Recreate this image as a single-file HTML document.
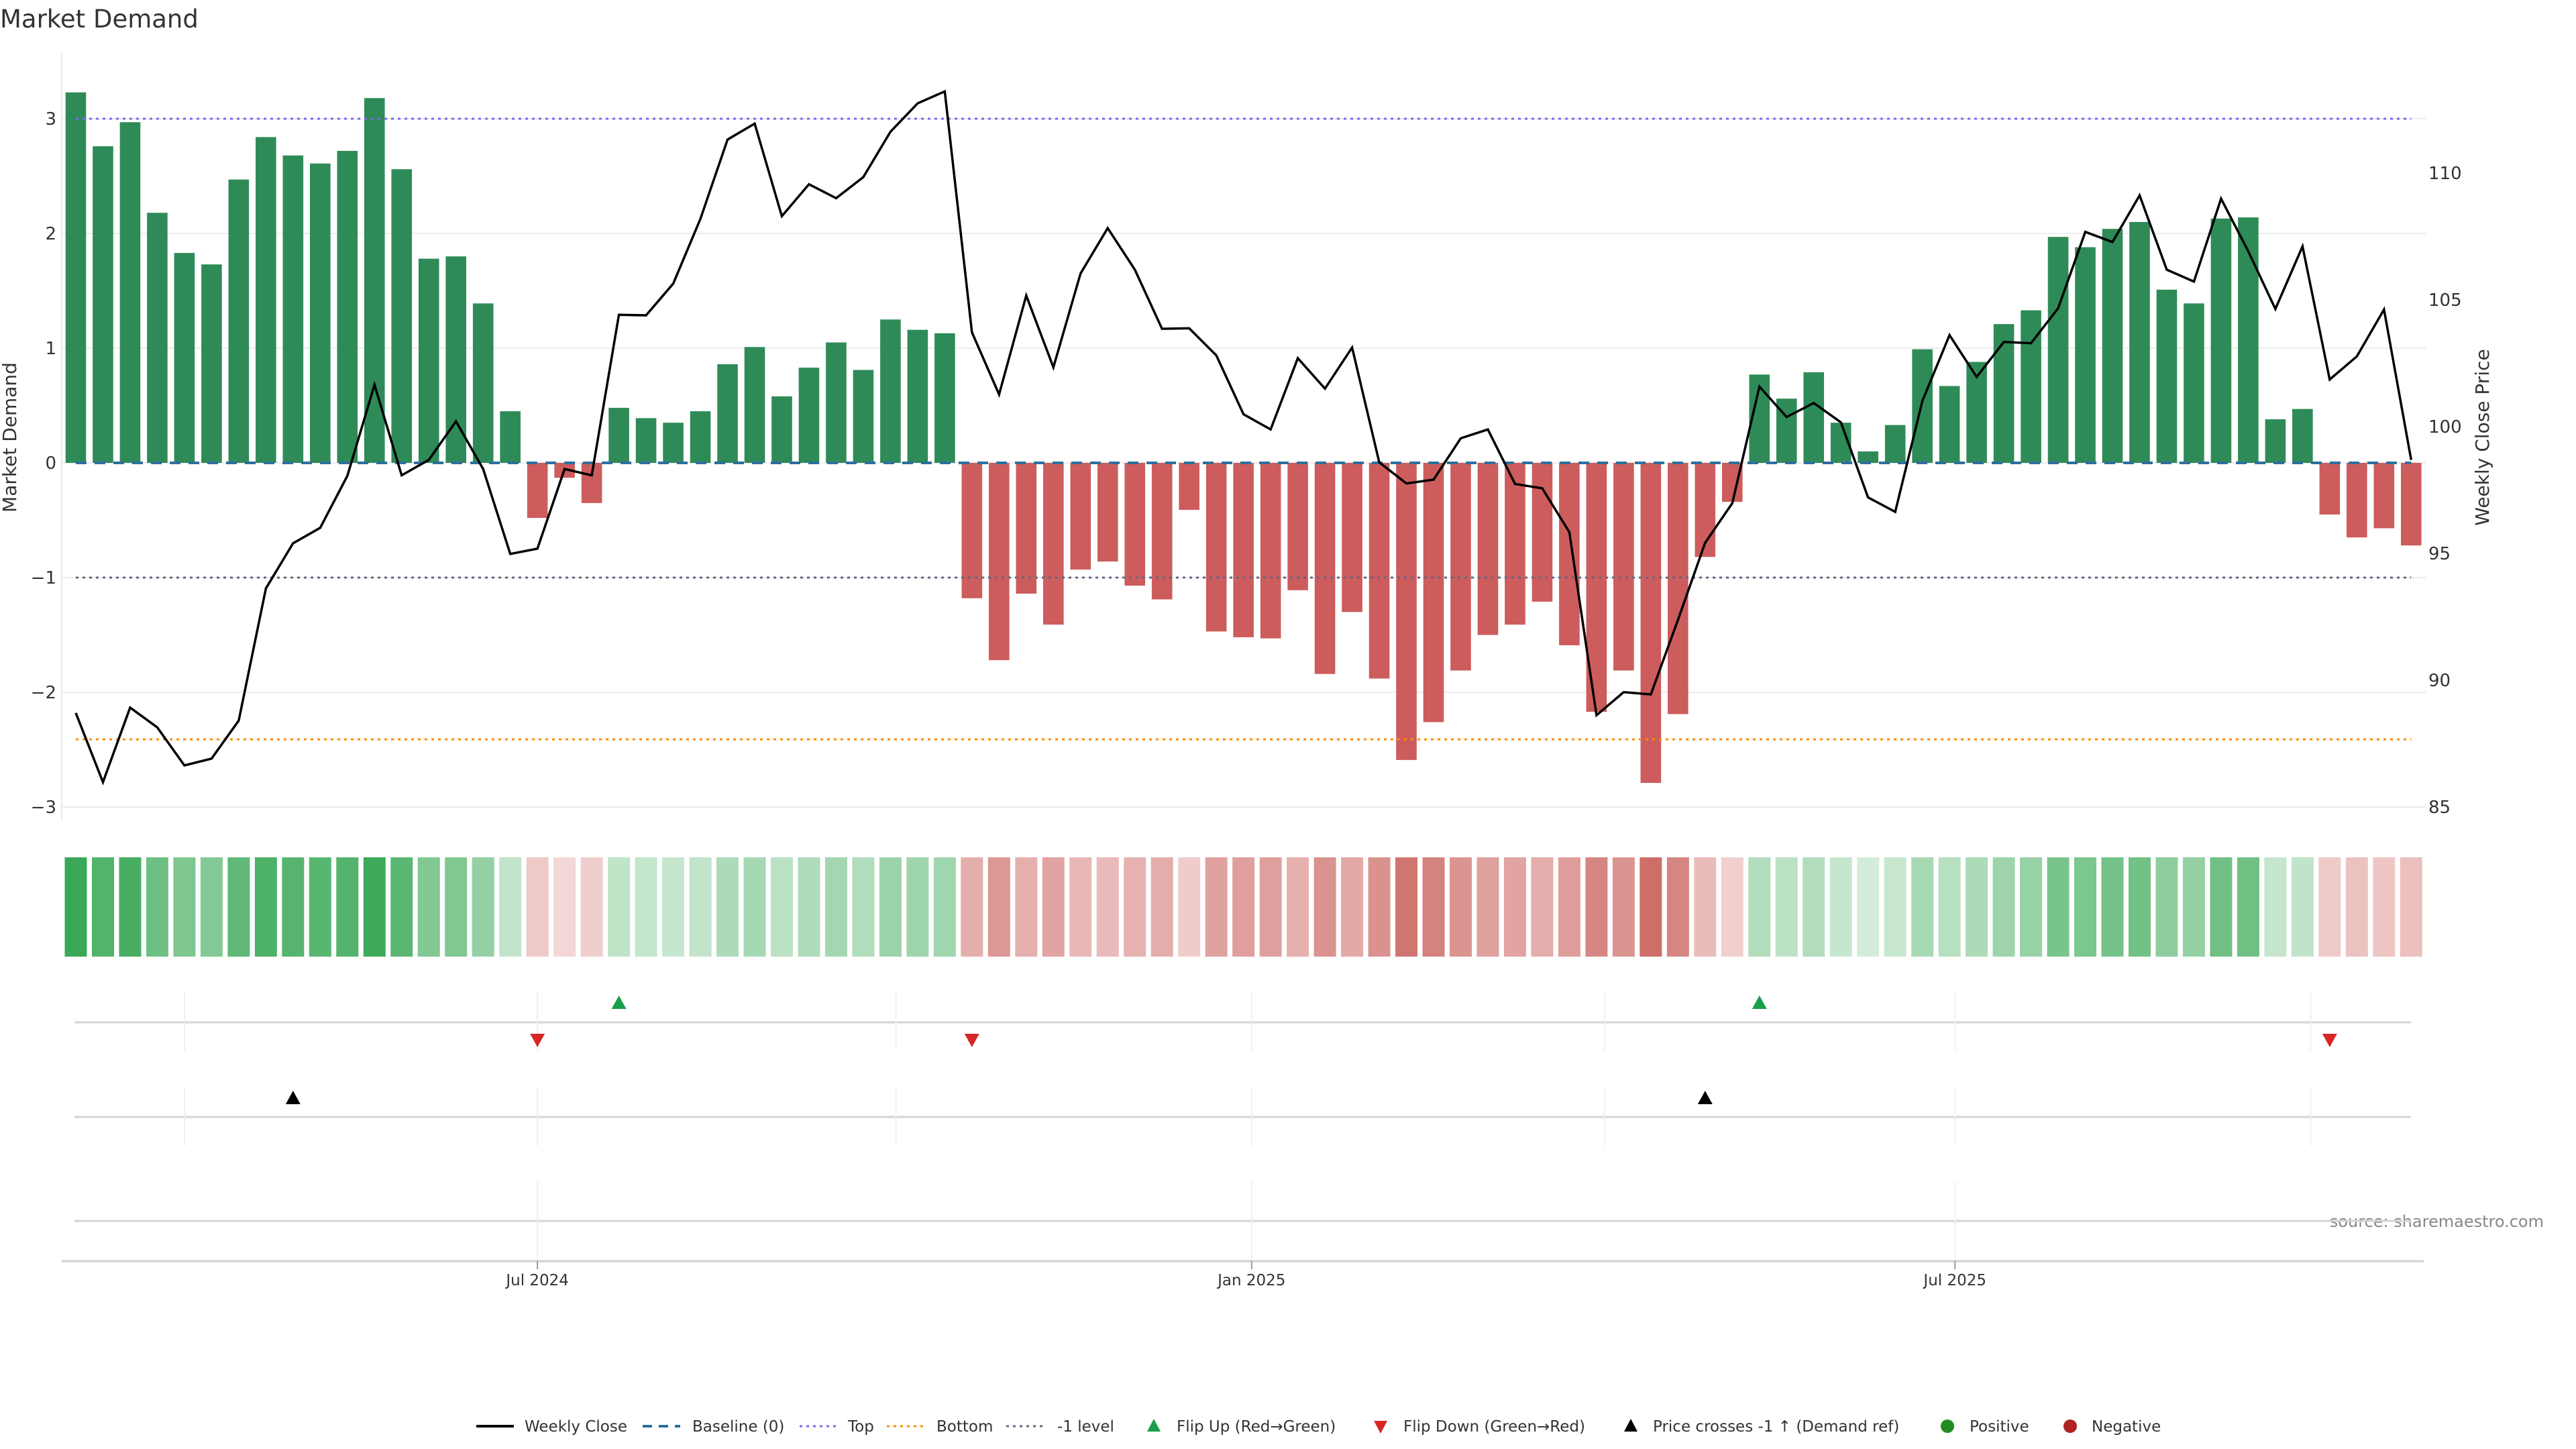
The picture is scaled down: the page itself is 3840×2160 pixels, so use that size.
<!DOCTYPE html>
<html><head><meta charset="utf-8"><style>
html,body{margin:0;padding:0;background:#fff;}
svg{display:block;font-family:"DejaVu Sans","Liberation Sans",sans-serif;}
</style></head><body>
<svg id="chart" width="3840" height="2160" viewBox="0 0 3840 2160" xmlns="http://www.w3.org/2000/svg">
<text x="0" y="41" font-size="37" fill="#333">Market Demand</text>
<text transform="translate(24,652) rotate(-90)" text-anchor="middle" font-size="28" fill="#333">Market Demand</text>
<text transform="translate(3710,652) rotate(-90)" text-anchor="middle" font-size="28" fill="#333">Weekly Close Price</text>
<text x="3792" y="1829" text-anchor="end" font-size="24" fill="#888">source: sharemaestro.com</text>
<g id="grid"></g>
<g id="bars"></g>
<g id="refs"></g>
<g id="line"></g>
<g id="heat"></g>
<g id="marks"></g>
<g id="axes"></g>
<g id="legend"></g>
</svg>
<script>
const demand = [3.23,2.76,2.97,2.18,1.83,1.73,2.47,2.84,2.68,2.61,2.72,3.18,2.56,1.78,1.80,1.39,0.45,-0.48,-0.13,-0.35,0.48,0.39,0.35,0.45,0.86,1.01,0.58,0.83,1.05,0.81,1.25,1.16,1.13,-1.18,-1.72,-1.14,-1.41,-0.93,-0.86,-1.07,-1.19,-0.41,-1.47,-1.52,-1.53,-1.11,-1.84,-1.30,-1.88,-2.59,-2.26,-1.81,-1.50,-1.41,-1.21,-1.59,-2.17,-1.81,-2.79,-2.19,-0.82,-0.34,0.77,0.56,0.79,0.35,0.10,0.33,0.99,0.67,0.88,1.21,1.33,1.97,1.88,2.04,2.10,1.51,1.39,2.13,2.14,0.38,0.47,-0.45,-0.65,-0.57,-0.72];
const closePrice = [88.71,85.98,88.92,88.14,86.64,86.91,88.41,93.62,95.40,96.01,98.06,101.65,98.08,98.69,100.21,98.33,94.98,95.19,98.33,98.08,104.41,104.39,105.64,108.19,111.32,111.95,108.30,109.56,109.01,109.84,111.63,112.75,113.22,103.72,101.27,105.17,102.34,106.04,107.83,106.19,103.86,103.88,102.81,100.49,99.89,102.70,101.50,103.12,98.59,97.76,97.91,99.54,99.89,97.74,97.57,95.84,88.62,89.53,89.44,92.38,95.42,96.98,101.58,100.38,100.93,100.17,97.21,96.64,101.01,103.61,101.96,103.34,103.29,104.67,107.68,107.28,109.12,106.19,105.72,108.99,106.92,104.64,107.11,101.86,102.77,104.62,98.69];
const flipUpIdx = [20,62];
const flipDownIdx = [17,33,83];
const crossIdx = [8,60];
const levels = {top:3.0, bottom:-2.41, minus1:-1};
const leftTicks = [-3,-2,-1,0,1,2,3];
const rightTicks = [85,90,95,100,105,110];
const dateTicks = [{i:17,label:"Jul 2024"},{i:43.3,label:"Jan 2025"},{i:69.2,label:"Jul 2025"}];
const minorTicks = [4.0,30.2,56.3,82.3];

const NS="http://www.w3.org/2000/svg";
function mk(parent,tag,attrs){const e=document.createElementNS(NS,tag);for(const k in attrs)e.setAttribute(k,attrs[k]);parent.appendChild(e);return e;}
const X0=113, STEP=40.48;
const xs=i=>X0+i*STEP;
const y0=690, UNIT=171;
const yL=v=>y0-v*UNIT;
const yR=p=>636-(p-100)*37.8;
const PL=92, PR=3616;

const grid=document.getElementById('grid');
leftTicks.forEach(t=>{
  const l=mk(grid,'line',{x1:PL,x2:PR,y1:yL(t),y2:yL(t),stroke:'#ececec','stroke-width':2});
  
  
});
const axes=document.getElementById('axes');
let al=mk(axes,'line',{x1:PL,x2:PL,y1:80,y2:1224,stroke:'#eaeaea','stroke-width':2});


leftTicks.forEach(t=>{
  const tx=mk(axes,'text',{x:84,y:yL(t)+9,'text-anchor':'end','font-size':26,fill:'#333'});
  tx.textContent=(t<0?'\u2212'+(-t):t);
  
  
});
rightTicks.forEach(t=>{
  const tx=mk(axes,'text',{x:3620,y:yR(t)+9,'font-size':26,fill:'#333'});
  tx.textContent=t;
  
  
});

const bars=document.getElementById('bars');
demand.forEach((v,i)=>{
  const y=v>=0?yL(v):y0, h=Math.abs(v)*UNIT;
  const r=mk(bars,'rect',{x:xs(i)-15.3,y:y,width:30.6,height:h,fill:v>=0?'#2e8b57':'#cd5c5c'});
  
  
});

const refs=document.getElementById('refs');
function ref(v,color,dash,name,w){
  const l=mk(refs,'line',{x1:xs(0),x2:xs(demand.length-1),y1:yL(v),y2:yL(v),stroke:color,'stroke-width':w||3,'stroke-dasharray':dash});
  
  
}
ref(levels.top,'#7b68ee','4 6','top-line');
ref(levels.bottom,'#ff8c00','4 6','bottom-line');
ref(levels.minus1,'#666680','4 6','minus1-level-line');
ref(0,'#2e6f9e','16 12','baseline-line',4);

const lg=document.getElementById('line');
const pts=closePrice.map((p,i)=>xs(i)+','+yR(p)).join(' ');
const pl=mk(lg,'polyline',{points:pts,fill:'none',stroke:'#000','stroke-width':3.5,'stroke-linejoin':'miter'});



function heatColor(v){
  const t=Math.min(Math.abs(v)/3.25,1);
  const a=v>=0?[215,238,220]:[245,220,220], b=v>=0?[58,168,87]:[198,92,86];
  return 'rgb('+a.map((c,k)=>Math.round(c+(b[k]-c)*t)).join(',')+')';
}
const heat=document.getElementById('heat');
demand.forEach((v,i)=>{
  const r=mk(heat,'rect',{x:xs(i)-16.5,y:1278,width:33,height:148,fill:heatColor(v)});
  
  
});

const marks=document.getElementById('marks');
[[1524,1478,1566],[1665,1620,1708],[1820,1762,1880]].forEach((row,ri)=>{
  const l=mk(marks,'line',{x1:111,x2:3594,y1:row[0],y2:row[0],stroke:'#d4d4d4','stroke-width':3});
  
  
  const tks=ri<2?minorTicks.concat(dateTicks.map(d=>d.i)):dateTicks.map(d=>d.i);
  tks.forEach(t=>{
    const g=mk(marks,'line',{x1:xs(t),x2:xs(t),y1:row[1],y2:row[2],stroke:'#eef0f3','stroke-width':2});
    
    
  });
});
function tri(x,y,up,color,name){
  const p=up?`${x},${y-10} ${x-11},${y+10} ${x+11},${y+10}`:`${x-11},${y-10} ${x+11},${y-10} ${x},${y+10}`;
  const t=mk(marks,'polygon',{points:p,fill:color});
  
  
}
flipUpIdx.forEach(i=>tri(xs(i),1494,true,'#1a9e4a','flip-up-marker'));
flipDownIdx.forEach(i=>tri(xs(i),1551,false,'#d62728','flip-down-marker'));
crossIdx.forEach(i=>tri(xs(i),1636,true,'#000','price-cross-marker'));

let bx=mk(axes,'line',{x1:92,x2:3613,y1:1880,y2:1880,stroke:'#d0d0d0','stroke-width':3});


dateTicks.forEach(d=>{
  const t=mk(axes,'line',{x1:xs(d.i),x2:xs(d.i),y1:1880,y2:1892,stroke:'#999','stroke-width':2});
  
  
  const tx=mk(axes,'text',{x:xs(d.i),y:1916,'text-anchor':'middle','font-size':23,fill:'#333'});
  tx.textContent=d.label;
  
  
});

const leg=document.getElementById('legend');
const LY=2126;
function ltext(x,s){const t=mk(leg,'text',{x:x,y:LY+8,'font-size':23,fill:'#333'});t.textContent=s;}
function lline(x,color,dash,w){const l=mk(leg,'line',{x1:x,x2:x+56,y1:LY,y2:LY,stroke:color,'stroke-width':w,'stroke-dasharray':dash});}
lline(710,'#000','',4);ltext(782,'Weekly Close');
lline(958,'#2e6f9e','14 10',4);ltext(1032,'Baseline (0)');
lline(1192,'#7b68ee','4 6',3);ltext(1264,'Top');
lline(1322,'#ff8c00','4 6',3);ltext(1396,'Bottom');
lline(1500,'#666680','4 6',3);ltext(1576,'-1 level');
function ltri(x,up,color){const p=up?`${x},${LY-11} ${x-10},${LY+8} ${x+10},${LY+8}`:`${x-10},${LY-8} ${x+10},${LY-8} ${x},${LY+11}`;const t=mk(leg,'polygon',{points:p,fill:color});}
ltri(1720,true,'#1a9e4a');ltext(1754,'Flip Up (Red\u2192Green)');
ltri(2058,false,'#d62728');ltext(2092,'Flip Down (Green\u2192Red)');
ltri(2431,true,'#000');ltext(2464,'Price crosses -1 \u2191 (Demand ref)');
function ldot(x,color){const c=mk(leg,'circle',{cx:x,cy:LY,r:10,fill:color});}
ldot(2903,'#228b22');ltext(2936,'Positive');
ldot(3086,'#b22222');ltext(3118,'Negative');
</script>
</body></html>
